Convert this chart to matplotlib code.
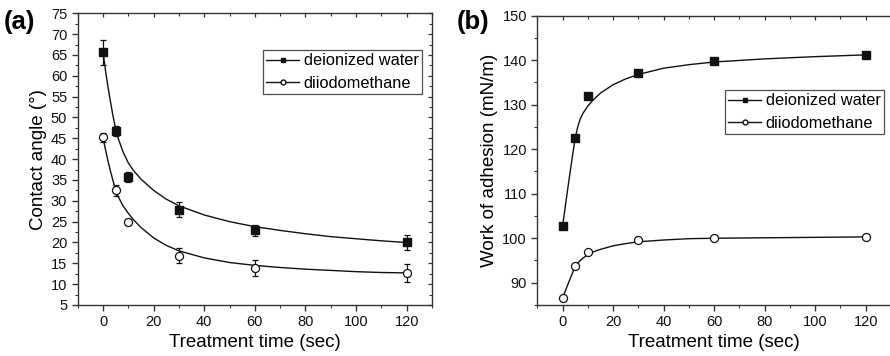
import matplotlib
matplotlib.use("Agg")
import matplotlib.pyplot as plt
from matplotlib.ticker import MultipleLocator

plt.rcParams['font.family'] = ['Liberation Sans', 'DejaVu Sans']

# ---- data ----
time = [0, 5, 10, 30, 60, 120]

# panel (a): contact angle
ca_water = [65.7, 46.8, 35.7, 27.8, 22.9, 20.0]
ca_water_err = [3.0, 1.2, 1.3, 1.8, 1.3, 1.7]
ca_diio = [45.2, 32.5, 24.9, 16.8, 13.9, 12.7]
ca_diio_err = [1.0, 1.4, 0.8, 1.8, 2.0, 2.2]

# fitted curves
fit_t_a = [0, 1, 2, 3, 4, 5, 6, 8, 10, 12, 15, 20, 25, 30, 40, 50, 60, 70, 80, 90, 100, 110, 120]
fit_water_a = [65.7, 61.2, 57.2, 53.6, 50.2, 47.3, 45.0, 41.6, 39.1, 37.3, 35.2, 32.5, 30.4, 28.8, 26.6, 25.0, 23.8, 22.9, 22.1, 21.4, 20.9, 20.4, 20.0]
fit_diio_a = [45.2, 42.2, 39.5, 37.0, 34.7, 32.6, 31.0, 28.7, 27.0, 25.5, 23.6, 21.1, 19.3, 18.0, 16.3, 15.2, 14.5, 14.0, 13.6, 13.3, 13.0, 12.8, 12.7]

# panel (b): work of adhesion
wa_water = [102.7, 122.5, 132.0, 137.2, 139.8, 141.2]
wa_diio = [86.6, 93.7, 96.9, 99.5, 100.1, 100.3]

fit_t_b = [0, 1, 2, 3, 4, 5, 6, 7, 8, 10, 12, 15, 20, 25, 30, 40, 50, 60, 80, 100, 120]
fit_water_b = [102.7, 106.8, 110.9, 114.9, 118.8, 122.5, 125.0, 126.8, 128.0, 129.7, 131.0, 132.6, 134.5, 135.8, 136.8, 138.2, 139.0, 139.6, 140.3, 140.8, 141.2]
fit_diio_b = [86.6, 88.0, 89.5, 90.9, 92.3, 93.6, 94.4, 95.0, 95.5, 96.3, 96.9, 97.5, 98.3, 98.8, 99.2, 99.6, 99.9, 100.0, 100.1, 100.2, 100.3]

series_labels = ['deionized water', 'diiodomethane']

W, H = 890, 356
fig = plt.figure(figsize=(W / 100, H / 100), dpi=100)

ax_a = fig.add_axes([77.7 / W, 1 - 305 / H, (432 - 77.7) / W, (305 - 13.3) / H])
ax_b = fig.add_axes([537.3 / W, 1 - 305 / H, (891 - 537.3) / W, (305 - 15.7) / H])

lc = '#111111'
tick_fs = 10.5
label_fs = 13.5
leg_fs = 11.8


def style_axes(ax, ymaj, ymin, right_ticks=True):
    for s in ax.spines.values():
        s.set_color('#333333')
        s.set_linewidth(1.0)
    ax.xaxis.set_major_locator(MultipleLocator(20))
    ax.xaxis.set_minor_locator(MultipleLocator(10))
    ax.yaxis.set_major_locator(MultipleLocator(ymaj))
    ax.yaxis.set_minor_locator(MultipleLocator(ymin))
    ax.tick_params(axis='both', which='both', colors='#333333', labelcolor='#111111',
                   labelsize=tick_fs, direction='out')
    ax.tick_params(axis='both', which='major', length=4, width=1)
    ax.tick_params(axis='both', which='minor', length=2.5, width=0.8)
    ax.set_xlim(-10, 130)
    # inward ticks on top and right
    top = ax.secondary_xaxis('top')
    top.xaxis.set_major_locator(MultipleLocator(20))
    top.xaxis.set_minor_locator(MultipleLocator(10))
    top.tick_params(axis='x', which='both', direction='in', colors='#333333', labeltop=False)
    top.tick_params(axis='x', which='major', length=3, width=0.9)
    top.tick_params(axis='x', which='minor', length=2, width=0.8)
    top.spines['top'].set_visible(False)
    if right_ticks:
        right = ax.secondary_yaxis('right')
        right.yaxis.set_major_locator(MultipleLocator(ymaj))
        right.yaxis.set_minor_locator(MultipleLocator(ymin))
        right.tick_params(axis='y', which='both', direction='in', colors='#333333', labelright=False)
        right.tick_params(axis='y', which='major', length=3, width=0.9)
        right.tick_params(axis='y', which='minor', length=2, width=0.8)
        right.spines['right'].set_visible(False)
    else:
        ax.spines['right'].set_visible(False)


def add_legend(ax, anchor):
    h1, = ax.plot([], [], '-s', color=lc, ms=5, lw=1.0)
    h2, = ax.plot([], [], '-o', color=lc, ms=5, mfc='white', lw=1.0)
    leg = ax.legend([h1, h2], series_labels, loc='upper right', bbox_to_anchor=anchor,
                    frameon=True, fancybox=False, edgecolor='#222222', fontsize=leg_fs,
                    handlelength=2.0, handletextpad=0.3, borderpad=0.2, labelspacing=0.45,
                    markerscale=0.7, borderaxespad=0)
    leg.get_frame().set_linewidth(0.9)


# ---- panel (a) ----
ax = ax_a
ax.plot(fit_t_a, fit_water_a, color=lc, lw=1.0)
ax.plot(fit_t_a, fit_diio_a, color=lc, lw=1.0)
ax.errorbar(time, ca_water, yerr=ca_water_err, fmt='s', ms=5.2, color=lc, mfc=lc, mec=lc,
            ecolor=lc, elinewidth=0.9, capsize=2.5, capthick=0.9)
ax.errorbar(time, ca_diio, yerr=ca_diio_err, fmt='o', ms=5.8, color=lc, mfc='white', mec=lc,
            mew=0.9, ecolor=lc, elinewidth=0.9, capsize=2.5, capthick=0.9)
add_legend(ax, ((422 - 77.7) / (432 - 77.7), (305 - 50) / (305 - 13.3)))
style_axes(ax, 5, 2.5)
ax.set_ylim(5, 75)
ax.set_xlabel('Treatment time (sec)', fontsize=label_fs, labelpad=3)
ax.set_ylabel('Contact angle (°)', fontsize=label_fs, labelpad=3)
fig.text(4 / W, 1 - 22 / H, '(a)', fontsize=18.5, fontweight='bold', va='center', ha='left')

# ---- panel (b) ----
ax = ax_b
ax.plot(fit_t_b, fit_water_b, color=lc, lw=1.0)
ax.plot(fit_t_b, fit_diio_b, color=lc, lw=1.0)
ax.plot(time, wa_water, 's', ms=5.2, color=lc)
ax.plot(time, wa_diio, 'o', ms=5.8, mfc='white', mec=lc, mew=0.9)
add_legend(ax, ((884 - 537.3) / (891 - 537.3), (305 - 90) / (305 - 15.7)))
style_axes(ax, 10, 5, right_ticks=False)
ax.set_ylim(85, 150)
ax.set_xlabel('Treatment time (sec)', fontsize=label_fs, labelpad=3)
ax.set_ylabel('Work of adhesion (mN/m)', fontsize=label_fs, labelpad=3)
fig.text(457 / W, 1 - 22 / H, '(b)', fontsize=18.5, fontweight='bold', va='center', ha='left')

fig.savefig('out.png', dpi=100)
